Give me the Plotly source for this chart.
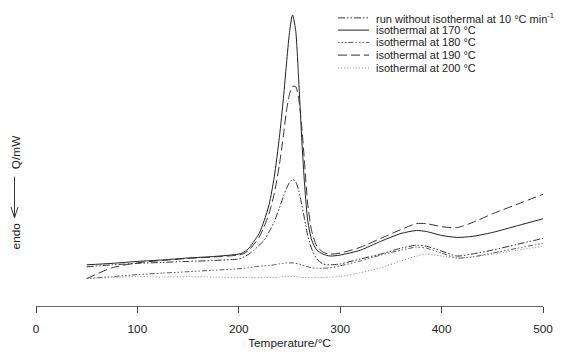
import plotly.graph_objects as go

# Temperature grid (°C)
temperature = [50, 75, 100, 125, 150, 175, 200,
               205, 210, 215, 220, 225, 230, 235, 240, 244, 247, 250, 253, 256, 259,
               262, 265, 268, 272, 277, 283, 290,
               300, 320, 340, 360, 375, 385, 400, 415, 430, 450, 475, 500]

# Heat flow (arbitrary offset, mW)
run_no_iso = [0.40, 0.42, 0.435, 0.445, 0.455, 0.465, 0.48,
              0.50, 0.53, 0.57, 0.62, 0.67, 0.76, 0.86, 1.00, 1.12, 1.20, 1.26, 1.29, 1.27, 1.18,
              1.04, 0.88, 0.72, 0.58, 0.48, 0.43, 0.42,
              0.43, 0.48, 0.53, 0.59, 0.62, 0.61, 0.56, 0.51, 0.53, 0.57, 0.63, 0.69]
iso_170 = [0.42, 0.435, 0.455, 0.47, 0.49, 0.505, 0.53,
           0.55, 0.59, 0.66, 0.74, 0.87, 1.04, 1.32, 1.72, 2.12, 2.47, 2.79, 2.97, 2.82, 2.32,
           1.72, 1.22, 0.87, 0.67, 0.57, 0.53, 0.51,
           0.52, 0.57, 0.66, 0.74, 0.77, 0.76, 0.72, 0.70, 0.71, 0.75, 0.82, 0.89]
iso_180 = [0.28, 0.30, 0.32, 0.335, 0.35, 0.365, 0.38,
           0.385, 0.39, 0.40, 0.405, 0.41, 0.415, 0.42, 0.43, 0.435, 0.44, 0.44, 0.44, 0.435, 0.43,
           0.42, 0.41, 0.40, 0.39, 0.385, 0.385, 0.39,
           0.41, 0.46, 0.52, 0.57, 0.60, 0.59, 0.54, 0.49, 0.50, 0.54, 0.59, 0.64]
iso_190 = [0.28, 0.39, 0.44, 0.465, 0.485, 0.50, 0.52,
           0.535, 0.57, 0.63, 0.70, 0.81, 0.95, 1.15, 1.44, 1.74, 1.99, 2.16, 2.24, 2.24, 2.12,
           1.84, 1.44, 1.04, 0.76, 0.61, 0.55, 0.53,
           0.54, 0.60, 0.69, 0.78, 0.84, 0.84, 0.81, 0.80, 0.85, 0.94, 1.04, 1.14]
iso_200 = [0.28, 0.29, 0.30, 0.295, 0.30, 0.295, 0.29,
           0.29, 0.29, 0.29, 0.29, 0.29, 0.29, 0.29, 0.295, 0.30, 0.30, 0.30, 0.30, 0.30, 0.295,
           0.29, 0.29, 0.29, 0.29, 0.29, 0.29, 0.295,
           0.30, 0.34, 0.39, 0.46, 0.51, 0.53, 0.51, 0.49, 0.50, 0.53, 0.57, 0.61]

series_names = ["run without isothermal at 10 °C min<sup>-1</sup>",
                "isothermal at 170 °C",
                "isothermal at 180 °C",
                "isothermal at 190 °C",
                "isothermal at 200 °C"]
series_values = [run_no_iso, iso_170, iso_180, iso_190, iso_200]
series_dash = ["7px,2px,1.5px,2px,1.5px,2px",
               "solid",
               "1.5px,2px,1.5px,2px,1.5px,2px,5px,2px",
               "9px,4px",
               "1px,2px"]
series_color = ["#333333", "#222222", "#555555", "#333333", "#888888"]

x_ticks = [0, 100, 200, 300, 400, 500]

W, H = 578, 359
ML, MR, MT, MB = 36, 35, 12, 47
PW, PH = W - ML - MR, H - MT - MB

def px(x):
    return (x - ML) / PW

def py(y):
    return (H - MB - y) / PH

FONT = "Liberation Sans, Arial, sans-serif"
FS = 11.8
LFS = 11

fig = go.Figure()
for name, vals, dash, col in zip(series_names, series_values, series_dash, series_color):
    fig.add_trace(go.Scatter(x=temperature, y=vals, mode="lines", name=name,
                             line=dict(color=col, width=1, dash=dash, shape="spline", smoothing=0.7),
                             showlegend=False))

shapes = []
annotations = []
# manual legend
row_y = [18, 30.5, 43, 56, 69]
for ry, name, dash, col in zip(row_y, series_names, series_dash, series_color):
    shapes.append(dict(type="line", xref="paper", yref="paper",
                       x0=px(338), x1=px(369), y0=py(ry), y1=py(ry),
                       line=dict(color=col, width=1, dash=dash)))
    annotations.append(dict(xref="paper", yref="paper", x=px(375), y=py(ry),
                            xanchor="left", yanchor="middle", showarrow=False, borderpad=0,
                            text=name, font=dict(family=FONT, size=LFS, color="#222")))

# y-axis label with arrow
annotations.append(dict(xref="paper", yref="paper", x=px(16), y=py(155), textangle=-90,
                        showarrow=False, text="Q/mW", xanchor="center", yanchor="middle",
                        font=dict(family=FONT, size=FS, color="#222")))
annotations.append(dict(xref="paper", yref="paper", x=px(16), y=py(241), textangle=-90,
                        showarrow=False, text="endo", xanchor="center", yanchor="middle",
                        font=dict(family=FONT, size=FS, color="#222")))
shapes.append(dict(type="line", xref="paper", yref="paper",
                   x0=px(14.5), x1=px(14.5), y0=py(180), y1=py(222),
                   line=dict(color="#333", width=1)))
shapes.append(dict(type="path", xref="paper", yref="paper",
                   path=f"M {px(11)},{py(211)} L {px(14.5)},{py(222)} L {px(18)},{py(211)}",
                   line=dict(color="#333", width=1)))

fig.update_layout(
    width=W, height=H,
    margin=dict(l=ML, r=MR, t=MT, b=MB),
    paper_bgcolor="white", plot_bgcolor="white",
    font=dict(family=FONT, size=FS, color="#222"),
    shapes=shapes, annotations=annotations,
    xaxis=dict(range=[0, 500], tickvals=x_ticks, ticktext=[str(t) for t in x_ticks],
               showline=True, linecolor="#666", linewidth=1,
               ticks="outside", ticklen=6, tickcolor="#444", tickwidth=1,
               ticklabelstandoff=6,
               showgrid=False, zeroline=False,
               tickfont=dict(family=FONT, size=FS, color="#222"),
               title=dict(text="Temperature/°C", standoff=3,
                          font=dict(family=FONT, size=FS, color="#222"))),
    yaxis=dict(range=[0, 3.0], visible=False),
)

fig.write_html("out.html")
